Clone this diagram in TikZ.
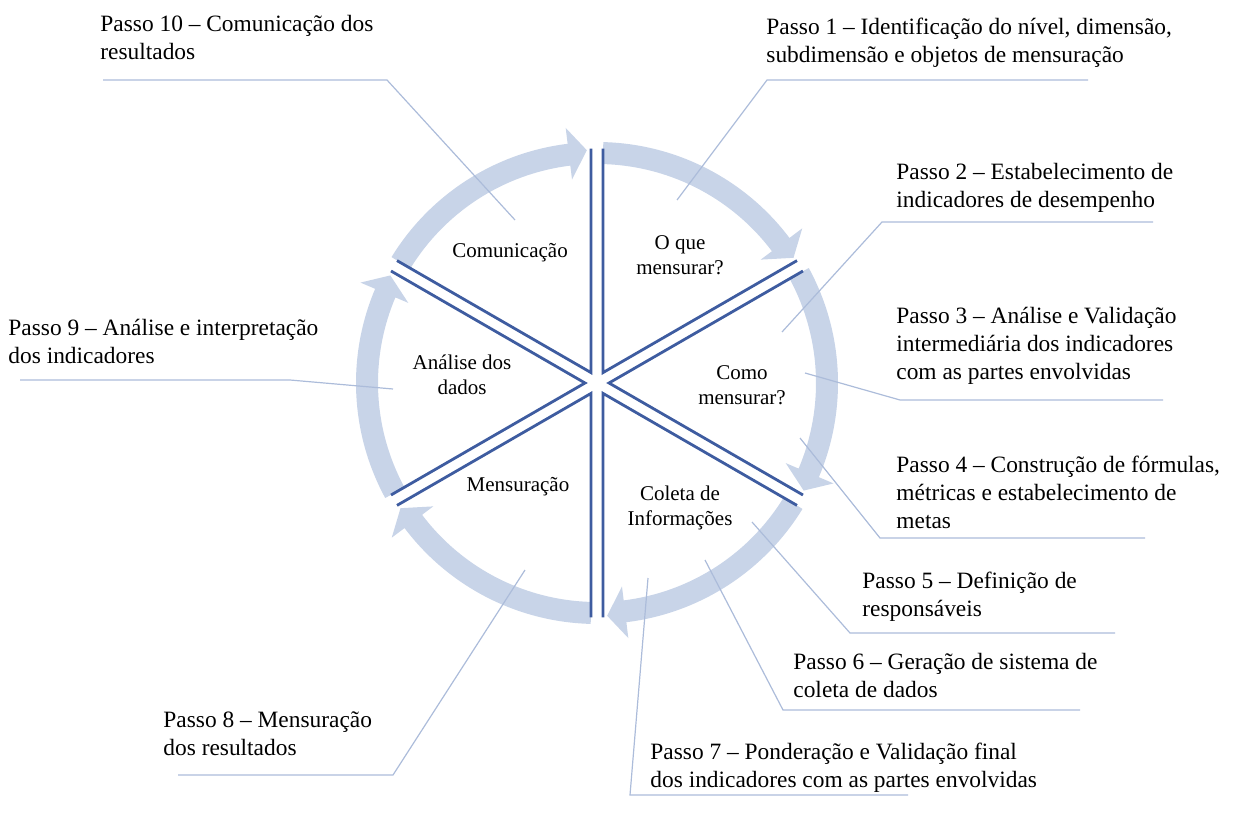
\documentclass[tikz,border=0pt]{standalone}
\usepackage{fontspec}
\setmainfont{Liberation Serif}

\definecolor{ringblue}{RGB}{200,212,232}
\definecolor{spokeblue}{RGB}{62,92,160}
\definecolor{calloutblue}{RGB}{172,188,218}

\tikzset{
  steptext/.style={anchor=base west, align=left, inner sep=0pt, font=\fontsize{11.7}{14}\selectfont},
  sectortext/.style={align=center, inner sep=0pt, font=\fontsize{10.5}{12.5}\selectfont},
  ring/.style={fill=ringblue},
  spoke/.style={draw=spokeblue, line width=1.4pt},
  callout/.style={draw=calloutblue, line width=0.6pt},
}

\begin{document}
\begin{tikzpicture}[x=0.5pt, y=0.5pt]
 \useasboundingbox (0,0) rectangle (1248,816);
 \coordinate (hub) at (597,433);

 % Ring of arrows, running clockwise
 \begin{scope}[shift={(hub)}]
  \foreach \a in {150,90,30,-30,-90,-150}{
   \fill[ring] (\a-1.5:241) arc[start angle=\a-1.5, end angle=\a-53, radius=241]
     -- (\a-53:257) -- (\a-57.5:233) -- (\a-53:205) -- (\a-53:219)
     arc[start angle=\a-53, end angle=\a-1.5, radius=219] -- cycle;
  }
  % Wedge edges (double spokes)
  \foreach \b in {90,30,-30,-90,-150,150}{
   \draw[spoke] (\b-30:12) ++(\b:224) -- ++(\b+180:224) -- ++(\b-60:224);
  }
 \end{scope}

 % Sector labels
 \node[sectortext] (comunic) at (510,563) {Comunicação};
 \node[sectortext] (oque) at (680,561) {O que\\mensurar?};
 \node[sectortext] (como) at (742,431) {Como\\mensurar?};
 \node[sectortext] (coleta) at (680,308) {Coleta de\\Informações};
 \node[sectortext] (mensur) at (518,329) {Mensuração};
 \node[sectortext] (analise) at (462,441) {Análise dos\\dados};

 % Step texts (base = last line)
 \node[steptext] (s1) at (766,753) {Passo 1 – Identificação do nível, dimensão,\\subdimensão e objetos de mensuração};
 \node[steptext] (s2) at (896,609) {Passo 2 – Estabelecimento de\\indicadores de desempenho};
 \node[steptext] (s3) at (896,437) {Passo 3 – Análise e Validação\\intermediária dos indicadores\\com as partes envolvidas};
 \node[steptext] (s4) at (896,288) {Passo 4 – Construção de fórmulas,\\métricas e estabelecimento de\\metas};
 \node[steptext] (s5) at (862,200) {Passo 5 – Definição de\\responsáveis};
 \node[steptext] (s6) at (793,119) {Passo 6 – Geração de sistema de\\coleta de dados};
 \node[steptext] (s7) at (650,29) {Passo 7 – Ponderação e Validação final\\dos indicadores com as partes envolvidas};
 \node[steptext] (s8) at (163,61) {Passo 8 – Mensuração\\dos resultados};
 \node[steptext] (s9) at (8,453) {Passo 9 – Análise e interpretação\\dos indicadores};
 \node[steptext] (s10) at (100,756) {Passo 10 – Comunicação dos\\resultados};

 % Callout lines
 \coordinate (s1in) at (677,616);  \coordinate (s1l) at (767,736);  \coordinate (s1r) at (1088,736);
 \coordinate (s2in) at (782,484);  \coordinate (s2l) at (882,594);  \coordinate (s2r) at (1153,594);
 \coordinate (s3in) at (805,443);  \coordinate (s3l) at (900,416);  \coordinate (s3r) at (1163,416);
 \coordinate (s4in) at (800,378);  \coordinate (s4l) at (880,278);  \coordinate (s4r) at (1145,278);
 \coordinate (s5in) at (752,294);  \coordinate (s5l) at (850,183);  \coordinate (s5r) at (1115,183);
 \coordinate (s6in) at (705,256);  \coordinate (s6l) at (783,106);  \coordinate (s6r) at (1080,106);
 \coordinate (s7in) at (648,238);  \coordinate (s7l) at (630,21);   \coordinate (s7r) at (908,21);
 \coordinate (s8in) at (525,246);  \coordinate (s8l) at (178,41);   \coordinate (s8r) at (393,41);
 \coordinate (s9in) at (393,427);  \coordinate (s9l) at (20,436);   \coordinate (s9r) at (290,436);
 \coordinate (s10in) at (515,596); \coordinate (s10l) at (103,736); \coordinate (s10r) at (387,736);

 \draw[callout] (s1in) -- (s1l) -- (s1r);
 \draw[callout] (s2in) -- (s2l) -- (s2r);
 \draw[callout] (s3in) -- (s3l) -- (s3r);
 \draw[callout] (s4in) -- (s4l) -- (s4r);
 \draw[callout] (s5in) -- (s5l) -- (s5r);
 \draw[callout] (s6in) -- (s6l) -- (s6r);
 \draw[callout] (s7in) -- (s7l) -- (s7r);
 \draw[callout] (s8in) -- (s8r) -- (s8l);
 \draw[callout] (s9in) -- (s9r) -- (s9l);
 \draw[callout] (s10in) -- (s10r) -- (s10l);
\end{tikzpicture}
\end{document}
